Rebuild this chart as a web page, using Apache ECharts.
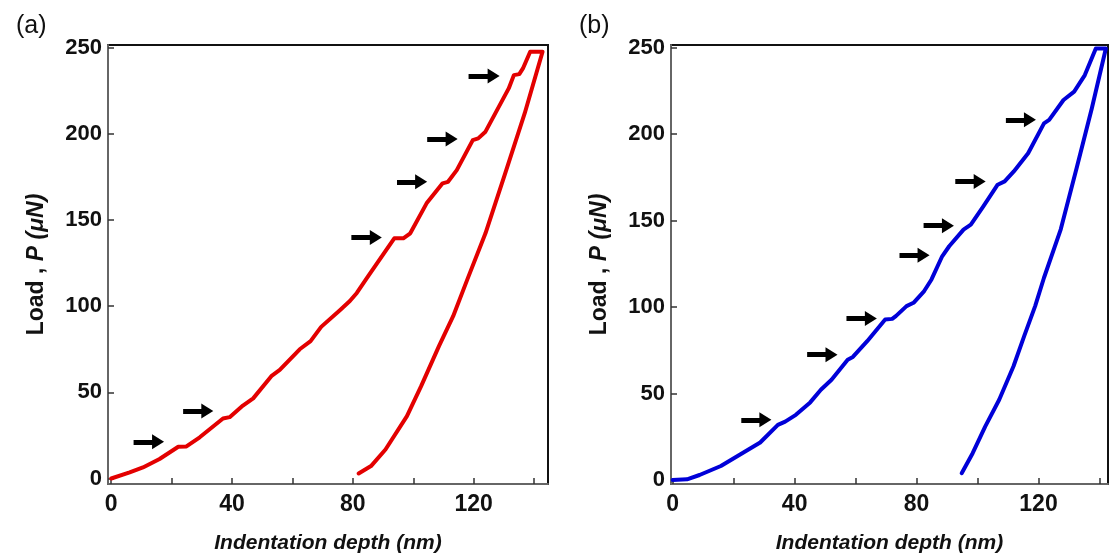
<!DOCTYPE html>
<html>
<head>
<meta charset="utf-8">
<script src="https://cdn.jsdelivr.net/npm/echarts@6/dist/echarts.min.js"></script>
<style>
  html, body { margin: 0; padding: 0; background: #fff; }
  #main { width: 1110px; height: 560px; }
</style>
</head>
<body>
<div id="main"></div>
<script>
// 数据：压痕深度 (nm) 与载荷 (μN)
var curveA = [
  [0, 0], [6.1, 3.5], [10.5, 6.4], [16, 11.3], [22.2, 18.4], [24.9, 18.6], [29.3, 23.9],
  [37, 34.8], [39.2, 35.6], [43.6, 42.3], [47, 46.5], [53, 59.4], [55.8, 63], [62.4, 75],
  [66, 79.7], [69.5, 88], [75.7, 97.7], [79, 103], [81.3, 107.7], [84.9, 117], [93.7, 139.4],
  [96.7, 139.4], [99, 142.3], [104.4, 159.7], [109.7, 171.3], [111.5, 172.2], [114.4, 179],
  [119.7, 196.4], [121.5, 197.4], [123.9, 201.3], [131.6, 226.4], [133.3, 234.1], [135.1, 234.7],
  [136.3, 238], [138.7, 247.7], [142.8, 247.7],
  // 卸载
  [143.4, 247], [136.9, 212], [130.4, 177], [123.9, 142.3], [118, 116], [113.2, 94.2],
  [108.5, 76.8], [102.6, 53.6], [97.9, 36.2], [90.8, 16.8], [86, 7.2], [81.9, 2.9]
];
var curveB = [
  [0, 0], [4.7, 0.4], [8.8, 2.9], [15.8, 8.1], [22.8, 15.5], [28.7, 21.7], [34.5, 31.9],
  [36.9, 33.8], [40.4, 37.7], [45.1, 44.9], [48.6, 52.2], [52.1, 58], [57.4, 69.6], [59.1, 71.2],
  [63.8, 80.3], [69.7, 92.8], [72, 93.2], [73.2, 94.8], [76.7, 100.6], [79, 102.5], [82.5, 109.3],
  [84.9, 116], [88.4, 129.4], [90.7, 135.2], [95.4, 144.8], [97.8, 147.7], [101.9, 158.3],
  [106.6, 170.8], [108.9, 172.7], [111.9, 178.5], [116.6, 189], [121.8, 206.3], [123.5, 208.3],
  [128.2, 219.8], [131.7, 224.6], [135.2, 234.2], [138.8, 249.6], [142.1, 249.6],
  // 卸载
  [137.5, 215], [132.6, 181], [127.3, 145], [121.8, 117], [118.9, 100.6], [115.3, 83.2],
  [111.8, 65.8], [107.1, 46.4], [102.5, 30.9], [98.4, 15.5], [94.8, 3.9]
];
// 箭头: [起点深度, 终点深度, 载荷]
var arrowsA = [[7.4, 17.5, 21.3], [23.8, 33.8, 39.1], [79.5, 89.6, 139.9],
  [94.6, 104.6, 172.2], [104.6, 114.7, 197], [118.3, 128.6, 233.6]];
var arrowsB = [[22.5, 32.4, 34.8], [44.1, 54.1, 72.5], [57, 67, 93.4], [74.4, 84.3, 130],
  [82.3, 92.3, 147.1], [92.7, 102.7, 172.7], [109.3, 119.2, 208.3]];
var xTicks = [0, 20, 40, 60, 80, 100, 120, 140];
var xLabels = [0, 40, 80, 120];
var yTicks = [0, 50, 100, 150, 200, 250];

var FONT = 'Arial, "Liberation Sans", sans-serif';

function arrowLines(list) {
  return list.map(function (a) {
    return [{ coord: [a[0], a[2]] }, { coord: [a[1] - 2, a[2]] }];
  });
}

function makeX(idx, min, max) {
  return {
    type: 'value', gridIndex: idx, min: min, max: max,
    name: 'Indentation depth (nm)', nameLocation: 'middle', nameGap: 49,
    nameTextStyle: { fontFamily: FONT, fontSize: 21, fontWeight: 'bold', fontStyle: 'italic', color: '#111' },
    axisLine: { show: true, onZero: false, lineStyle: { color: '#666', width: 2 } },
    axisTick: { show: true, inside: true, length: 6, customValues: xTicks, lineStyle: { color: '#333', width: 1.5 } },
    axisLabel: { customValues: xLabels, margin: 9, fontFamily: FONT, fontSize: 23, fontWeight: 'bold', color: '#111' },
    splitLine: { show: false }
  };
}

function makeY(idx, min, max) {
  return {
    type: 'value', gridIndex: idx, min: min, max: max,
    name: 'Load , {i|P (μN)}', nameLocation: 'middle', nameGap: 60,
    nameTextStyle: {
      fontFamily: FONT, fontSize: 23, fontWeight: 'bold', color: '#111',
      rich: { i: { fontFamily: FONT, fontSize: 23, fontWeight: 'bold', fontStyle: 'italic', color: '#111' } }
    },
    axisLine: { show: true, onZero: false, lineStyle: { color: '#666', width: 2 } },
    axisTick: { show: true, inside: true, length: 6, customValues: yTicks, lineStyle: { color: '#333', width: 1.5 } },
    axisLabel: { customValues: yTicks, margin: 6, fontFamily: FONT, fontSize: 22, fontWeight: 'bold', color: '#111' },
    splitLine: { show: false }
  };
}

function makeSeries(idx, data, color, arrows) {
  return {
    type: 'line', xAxisIndex: idx, yAxisIndex: idx, data: data,
    showSymbol: false, smooth: false,
    lineStyle: { color: color, width: 4, join: 'round', cap: 'round' },
    markLine: {
      silent: true, animation: false,
      symbol: ['none', 'triangle'], symbolSize: [15, 12],
      label: { show: false },
      lineStyle: { color: '#000', width: 5, type: 'solid' },
      data: arrowLines(arrows)
    }
  };
}

var myChart = echarts.init(document.getElementById('main'));

var option = {
  animation: false,
  backgroundColor: '#fff',
  title: [
    { text: '(a)', left: 11, top: 9, textStyle: { fontFamily: FONT, fontSize: 25, fontWeight: 'normal', color: '#111' } },
    { text: '(b)', left: 574, top: 9, textStyle: { fontFamily: FONT, fontSize: 25, fontWeight: 'normal', color: '#111' } }
  ],
  grid: [
    { left: 108, top: 45, width: 440, height: 439, show: true, borderColor: '#111', borderWidth: 2, backgroundColor: 'transparent' },
    { left: 671, top: 45, width: 437, height: 439, show: true, borderColor: '#111', borderWidth: 2, backgroundColor: 'transparent' }
  ],
  xAxis: [makeX(0, -1.07, 144.6), makeX(1, -0.56, 142.8)],
  yAxis: [makeY(0, -3.2, 251.6), makeY(1, -2.3, 251.6)],
  series: [
    makeSeries(0, curveA, '#e30000', arrowsA),
    makeSeries(1, curveB, '#0000d8', arrowsB)
  ]
};

myChart.setOption(option);
</script>
</body>
</html>
